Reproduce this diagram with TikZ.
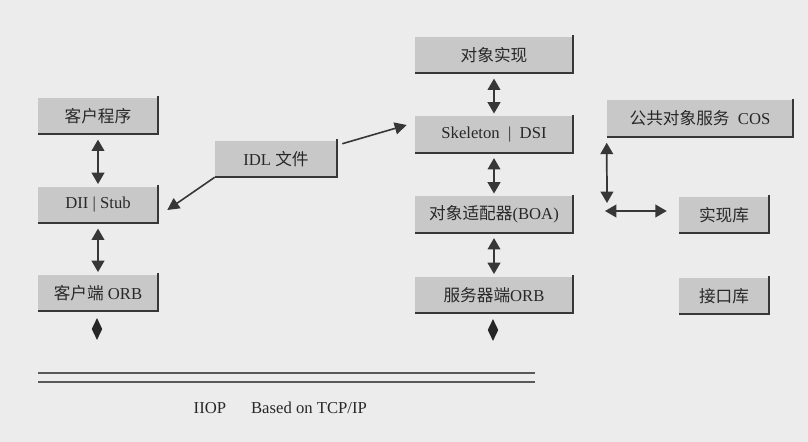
\documentclass[tikz,border=0pt]{standalone}
\usepackage{fontspec}
\setmainfont{Liberation Serif}
\newfontfamily\cjk{Noto Sans CJK SC}
\usetikzlibrary{arrows.meta,shapes.geometric,calc}
\definecolor{bg}{RGB}{236,236,236}
\definecolor{boxfill}{RGB}{200,200,200}
\definecolor{edge}{RGB}{55,55,55}
\definecolor{ink}{RGB}{40,40,40}
\begin{document}
\begin{tikzpicture}[x=0.75pt,y=-0.75pt,
  blk/.style={rectangle, fill=boxfill, inner sep=0pt, minimum height=27pt,
    text=ink, font=\fontsize{12.5}{15}\selectfont},
  rim/.style={draw=edge, line width=1.4pt},
  link/.style={draw=edge, line width=1.3pt, {Triangle[width=9.5pt,length=8.5pt]}-{Triangle[width=9.5pt,length=8.5pt]},
    shorten <=4pt, shorten >=2pt},
  feed/.style={draw=edge, line width=1.2pt, -{Triangle[width=9pt,length=9pt]}},
  free/.style={draw=edge, line width=1.3pt, {Triangle[width=9.5pt,length=8.5pt]}-{Triangle[width=9.5pt,length=8.5pt]}},
  tipmark/.style={diamond, fill=black!85, inner sep=0pt, minimum width=8pt, minimum height=16.5pt},
  rail/.style={draw=black!65, line width=1.5pt},
  caption/.style={text=ink, font=\fontsize{12.5}{15}\selectfont}
]
\fill[bg] (0,0) rectangle (808,442);
\useasboundingbox (0,0) rectangle (808,442);

% client side
\node[blk, minimum width=90pt] (cp) at (98,116) {\cjk 客户程序};
\node[blk, minimum width=90pt] (dii) at (98,205) {DII | Stub};
\node[blk, minimum width=90pt] (corb) at (98,293) {{\cjk 客户端} ORB};
% IDL
\node[blk, minimum width=91.5pt] (idl) at (276,159) {IDL {\cjk 文件}};
% server side
\node[blk, minimum width=118.5pt] (impl) at (494,55) {\cjk 对象实现};
\node[blk, minimum width=118.5pt] (skel) at (494,134.5) {Skeleton \ | \ DSI};
\node[blk, minimum width=118.5pt] (boa) at (494,214.5) {{\cjk 对象适配器}(BOA)};
\node[blk, minimum width=118.5pt] (sorb) at (494,295) {{\cjk 服务器端}ORB};
% services
\node[blk, minimum width=139.5pt] (cos) at (700,118.5) {{\cjk 公共对象服务} \ COS};
\node[blk, minimum width=67.5pt] (repo) at (724,215) {\cjk 实现库};
\node[blk, minimum width=67.5pt] (ifr) at (724,296) {\cjk 接口库};

\foreach \n in {cp,dii,corb,idl,impl,skel,boa,sorb,cos,repo,ifr}
  \draw[rim] ([yshift=1pt]\n.north east) -- (\n.south east) -- (\n.south west);

% vertical links
\draw[link] (cp.south) -- (dii.north);
\draw[link] (dii.south) -- (corb.north);
\draw[link] (impl.south) -- (skel.north);
\draw[link] (skel.south) -- (boa.north);
\draw[link] (boa.south) -- (sorb.north);

% diamonds
\node[tipmark] (d1) at (97,329) {};
\node[tipmark] (d2) at (493,330) {};

% IDL arrows
\coordinate (t1) at ($(dii.east)+(9,5)$);
\coordinate (s2) at ($(idl.north east)+(5,3)$);
\coordinate (t2) at ($(skel.west)+(-8,-9.5)$);
\draw[feed] (idl.south west) -- (t1);
\draw[feed] (s2) -- (t2);

% COS arrows
\coordinate (v1) at ($(cos.south west)+(0,6)$);
\coordinate (v2) at (607,203);
\coordinate (h1) at (605,211);
\coordinate (h2) at ($(repo.west)+(-12,-4)$);
\draw[free] (v1) -- (v2);
\draw[free] (h1) -- (h2);

% bus
\coordinate (r1a) at (38,373); \coordinate (r1b) at (535,373);
\coordinate (r2a) at (38,382); \coordinate (r2b) at (535,382);
\draw[rail] (r1a) -- (r1b);
\draw[rail] (r2a) -- (r2b);
\node[caption, anchor=west] (bus) at (189,408) {IIOP\hspace{1.5em}Based on TCP/IP};
\end{tikzpicture}
\end{document}
